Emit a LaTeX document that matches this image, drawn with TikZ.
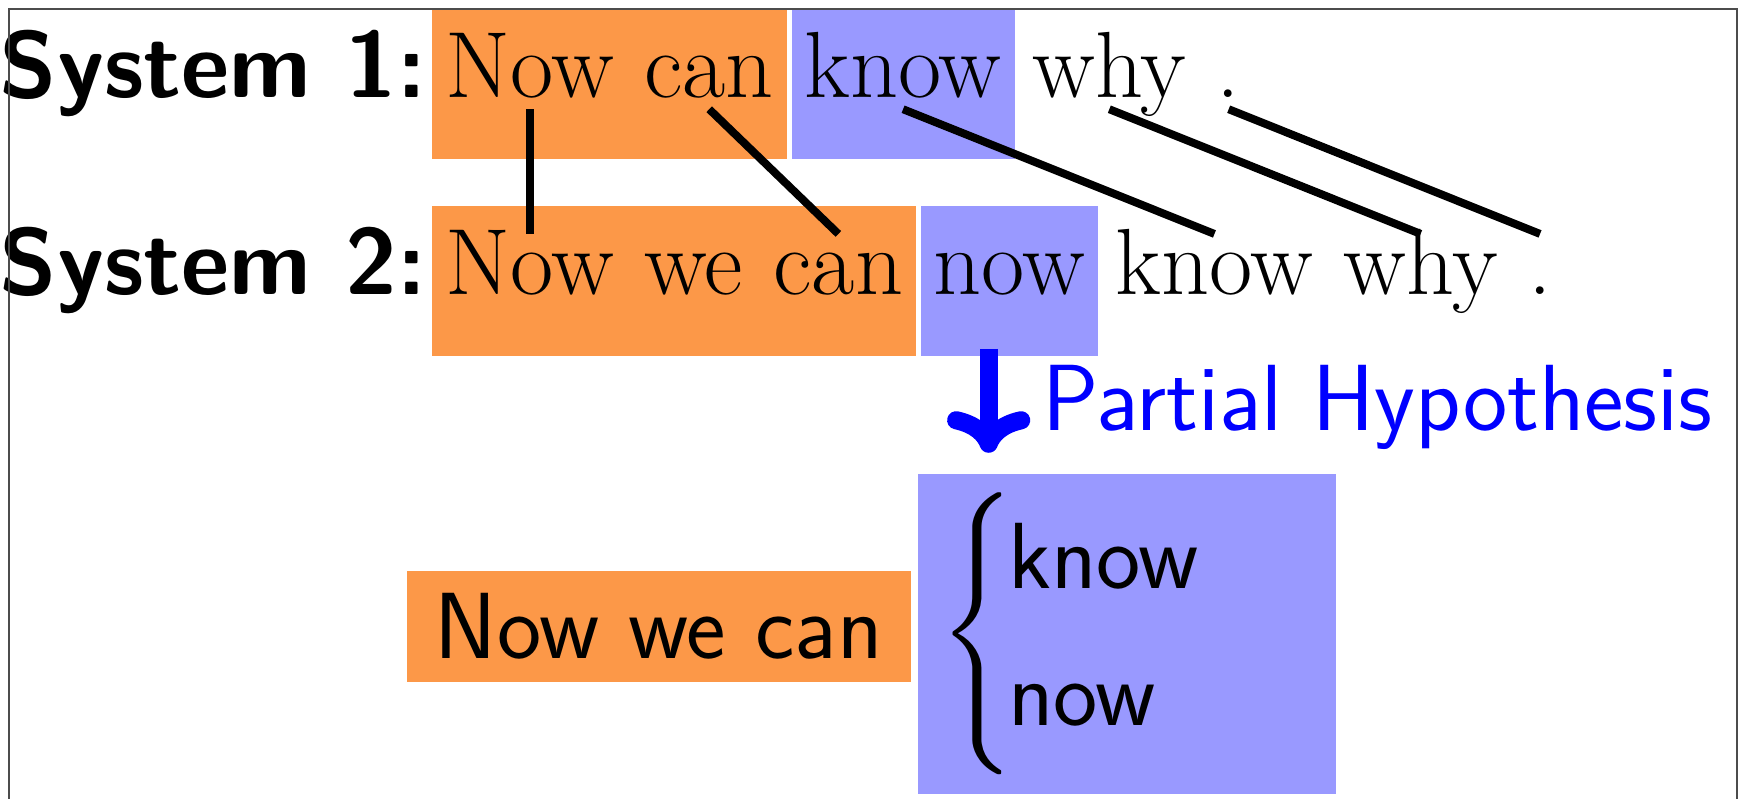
\documentclass[tikz,border=0pt]{standalone}
\usepackage{amsmath}
\usetikzlibrary{positioning,fit,backgrounds,arrows.meta}
\definecolor{hlorange}{RGB}{252,152,72}
\definecolor{hlblue}{RGB}{153,153,255}
\tikzset{>/.tip={Computer Modern Rightarrow[length=11pt,width=22pt]}}
\tikzset{word/.style={inner sep=0pt,text height=23.3pt,text depth=16.1pt}}
\tikzset{sysname/.style={word,font=\Huge\sffamily\bfseries}}
\tikzset{hlbox/.style={inner xsep=3.2pt,inner ysep=0pt}}

\begin{document}
\begin{tikzpicture}[font=\Huge,node distance=7.7pt]
        \useasboundingbox (0,0) rectangle (462pt,-211.4pt);
        \node(sys1)[sysname,anchor=base west] at (-0.3pt,-25.7pt){System 1:};
        \node(s1now)[word,base right=4.6pt of sys1]{Now};
        \node(s1can)[word,base right=of s1now]{can};
        \node(s1know)[word,base right=of s1can]{know};
        \node(s1why)[word,base right=of s1know]{why};
        \node(s1dot)[word,base right=of s1why]{.};
        \node(sys2)[sysname,below=12.5pt of sys1]{System 2:};
        \node(s2now)[word,base right=4.6pt of sys2]{Now};
        \node(s2we)[word,base right=of s2now]{we};
        \node(s2can)[word,base right=of s2we]{can};
        \node(s2nowb)[word,base right=of s2can]{now};
        \node(s2know)[word,base right=of s2nowb]{know};
        \node(s2why)[word,base right=of s2know]{why};
        \node(s2dot)[word,base right=of s2why]{.};
        \begin{scope}[on background layer]
        \node(s1pre)[hlbox,fill=hlorange,fit=(s1now)(s1can)]{};
        \node(s1hyp)[hlbox,fill=hlblue,fit=(s1know)]{};
        \node(s2pre)[hlbox,fill=hlorange,fit=(s2now)(s2we)(s2can)]{};
        \node(s2hyp)[hlbox,fill=hlblue,fit=(s2nowb)]{};
        \end{scope}
        \draw[line width=2.1pt]
        ([yshift=-3.2pt]s1now.base) edge ([yshift=16.1pt]s2now.base)
        ([yshift=-3.2pt]s1can.base) edge ([yshift=16.1pt]s2can.base)
        ([yshift=-3.2pt]s1know.base) edge ([yshift=16.1pt]s2know.base)
        ([yshift=-3.2pt]s1why.base) edge ([yshift=16.1pt]s2why.base)
        ([yshift=-3.2pt]s1dot.base) edge ([yshift=16.1pt]s2dot.base);
        \coordinate(arrstart) at ([xshift=-5.5pt,yshift=2pt]s2nowb.south);
        \coordinate[below=27.5pt of arrstart](arrtip);
        \draw[->,blue,line width=4.8pt] (arrstart) -- (arrtip);
        \node(partial)[anchor=base west,inner sep=0pt,text=blue,font=\Huge\sffamily]
          at ([xshift=14pt,yshift=-21.5pt]arrstart){Partial Hypothesis};
        \node(hypbox)[fill=hlblue,anchor=north west,inner xsep=5.7pt,inner ysep=0pt,
          text width=99pt,align=left,minimum height=84.7pt,font=\Huge\sffamily]
          at (242.8pt,-125.2pt){$\left\{\begin{tabular}{@{\hspace{-2pt}}l@{}}know\\[6.3pt]now\end{tabular}\right.$};
        \node(prefix)[fill=hlorange,left=1.6pt of hypbox,yshift=2pt,minimum width=133.4pt,
          minimum height=29.4pt,inner sep=0pt,font=\Huge\sffamily]{Now we can};
        \draw[gray!60!black,line width=0.5pt] (2.3pt,-211.4pt) |- (459.6pt,-2.4pt) -- (459.6pt,-211.4pt);
      \end{tikzpicture}
\end{document}
